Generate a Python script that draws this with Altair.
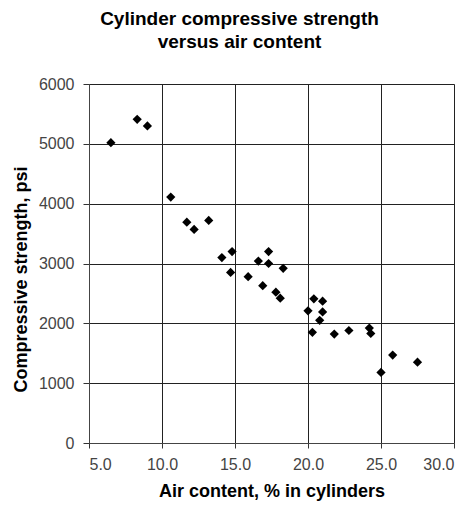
import altair as alt
import pandas as pd

air = [6.5, 8.3, 9.0, 10.6, 11.7, 12.2, 13.2, 14.1, 14.8, 14.7, 15.9, 16.6,
       16.9, 17.3, 17.3, 17.8, 18.1, 18.3, 20.0, 20.4, 21.0, 21.0, 20.8, 20.3,
       21.8, 22.8, 24.2, 24.3, 25.8, 27.5, 25.0]
strength = [5020, 5410, 5300, 4110, 3690, 3570, 3720, 3100, 3200, 2850, 2780, 3040,
            2630, 3200, 3000, 2520, 2420, 2920, 2210, 2410, 2370, 2190, 2050, 1850,
            1820, 1880, 1920, 1830, 1470, 1350, 1180]
x_ticks = [5, 10, 15, 20, 25, 30]
y_ticks = [0, 1000, 2000, 3000, 4000, 5000, 6000]

df = pd.DataFrame({"air": air, "strength": strength})

FONT = "Liberation Sans"

chart = alt.Chart(df).mark_point(
    shape="diamond", filled=True, color="black", opacity=1, size=85
).encode(
    x=alt.X("air:Q", scale=alt.Scale(domain=[5, 30], nice=False, zero=False),
            axis=alt.Axis(values=x_ticks, format=".1f",
                          title="Air content, % in cylinders",
                          titleFont=FONT, titleFontSize=18, titleFontWeight="bold",
                          titleColor="black", titlePadding=10,
                          labelFont=FONT, labelFontSize=16, labelColor="#444",
                          labelPadding=8, tickSize=5, tickColor="#333",
                          domainColor="#444",
                          grid=True, gridColor="#222", gridWidth=1)),
    y=alt.Y("strength:Q", scale=alt.Scale(domain=[0, 6000], nice=False),
            axis=alt.Axis(values=y_ticks, format="d",
                          title="Compressive strength, psi",
                          titleFont=FONT, titleFontSize=18, titleFontWeight="bold",
                          titleColor="black", titleX=-59, titleY=195,
                          labelFont=FONT, labelFontSize=16, labelColor="#444",
                          labelPadding=9, tickSize=6, tickColor="#333",
                          domainColor="#444",
                          grid=True, gridColor="#222", gridWidth=1)),
).properties(
    width=365,
    height=359,
    autosize=alt.AutoSizeParams(type="none"),
    padding={"left": 81, "top": 76, "right": 8, "bottom": 58},
    title=alt.TitleParams(
        text=["Cylinder compressive strength", "versus air content"],
        font=FONT, fontSize=19, fontWeight="bold", color="black",
        anchor="middle", dx=-32, offset=24, lineHeight=23,
    ),
).configure_view(
    fill="#bdbdbd", stroke="#999"
).configure(background="white")

chart.save("out.html", embed_options={"renderer": "svg", "actions": False})
